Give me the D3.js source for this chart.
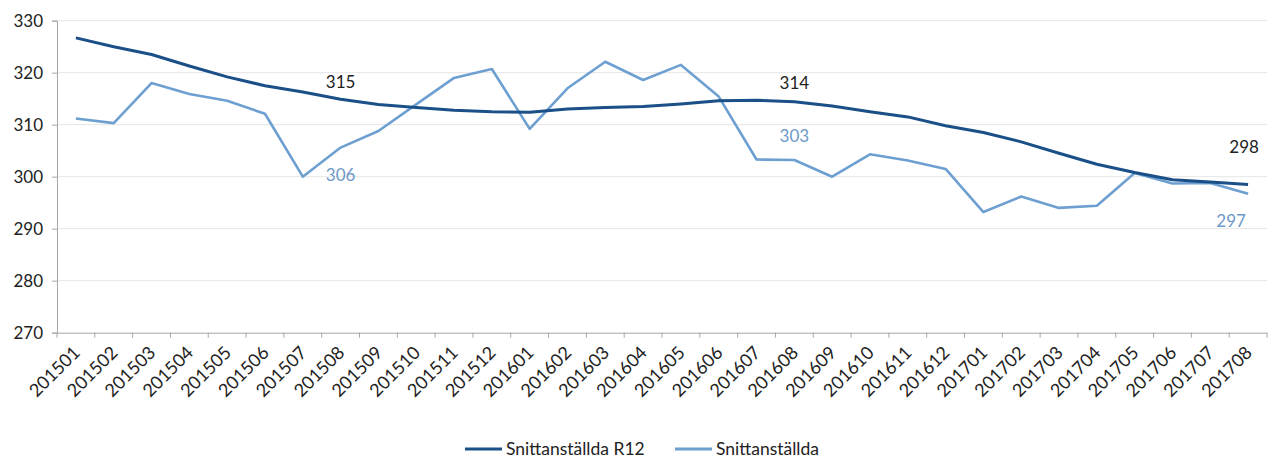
<!DOCTYPE html>
<html><head><meta charset="utf-8">
<script src="https://cdn.jsdelivr.net/npm/d3@7"></script>
<style>body{margin:0;background:#fff}svg{display:block;font-family:Lato,"Open Sans",sans-serif}</style>
</head><body><svg id="c" width="1268" height="458"></svg>
<script>
const categories = ["201501","201502","201503","201504","201505","201506","201507","201508","201509","201510","201511","201512","201601","201602","201603","201604","201605","201606","201607","201608","201609","201610","201611","201612","201701","201702","201703","201704","201705","201706","201707","201708"];
const r12 = [326.7,325.0,323.5,321.3,319.2,317.5,316.3,314.9,313.9,313.3,312.8,312.5,312.4,313.0,313.3,313.5,314.0,314.6,314.7,314.4,313.6,312.5,311.5,309.8,308.5,306.7,304.5,302.4,300.8,299.4,299.0,298.5];
const monthly = [311.2,310.3,318.0,315.9,314.6,312.1,300.0,305.6,308.8,313.9,319.0,320.7,309.2,317.0,322.1,318.6,321.5,315.4,303.3,303.2,300.0,304.3,303.1,301.5,293.2,296.2,294.0,294.4,300.7,298.7,298.8,296.7];
const yTicks = [270,280,290,300,310,320,330];
const seriesNames = ["Snittanställda R12","Snittanställda"];
const labels = [
  {series:0, idx:7, text:"315"},
  {series:1, idx:7, text:"306"},
  {series:0, idx:19, text:"314"},
  {series:1, idx:19, text:"303"},
  {series:0, idx:31, text:"298"},
  {series:1, idx:31, text:"297"}
];

const colors = ["#1a4f87","#6d9fd0"];
const labelColors = ["#222","#6d98c8"];
const svg = d3.select("#c");
const L = 57, R = 1267, T = 20.7, B = 332.7;
const x = d3.scaleBand().domain(categories).range([L, R]);
const y = d3.scaleLinear().domain([270,330]).range([B, T]);
const cx = c => x(c) + x.bandwidth()/2;

// grid
svg.append("g").selectAll("line").data(yTicks.filter(t=>t>270)).join("line")
  .attr("x1", L).attr("x2", R).attr("y1", d=>y(d)).attr("y2", d=>y(d))
  .attr("stroke", "#e6e6e6").attr("stroke-width", 1);

// y axis
const ya = svg.append("g").attr("transform", `translate(${L},0)`)
  .call(d3.axisLeft(y).tickValues(yTicks).tickSize(5).tickPadding(9));
ya.select(".domain").attr("stroke", "#a6a6a6");
ya.selectAll(".tick line").attr("stroke", "#a6a6a6");
ya.selectAll("text").attr("font-size", 17).attr("fill", "#222").attr("font-family","Lato");

// x axis
const xa = svg.append("g").attr("transform", `translate(0,${B})`)
  .call(d3.axisBottom(x).tickSize(0).tickSizeOuter(0));
xa.select(".domain").attr("stroke", "#a6a6a6");
xa.selectAll(".tick line").remove();
xa.selectAll(".tick text")
  .attr("font-size", 18).attr("fill", "#222").attr("font-family","Lato")
  .attr("text-anchor", "end").attr("dy", 0)
  .attr("transform", "translate(3,19) rotate(-45)");
// band-boundary ticks
svg.append("g").selectAll("line").data(categories.concat(["__end"])).join("line")
  .attr("x1", (d,i)=> i<categories.length ? x(d) : R)
  .attr("x2", (d,i)=> i<categories.length ? x(d) : R)
  .attr("y1", B).attr("y2", B+5).attr("stroke", "#a6a6a6");

// lines
const line = d3.line().x((d,i)=>cx(categories[i])).y(d=>y(d));
[monthly, r12].forEach((s, k) => {
  const ci = k===0 ? 1 : 0;
  svg.append("path").datum(s).attr("d", line).attr("fill","none")
    .attr("stroke", colors[ci]).attr("stroke-width", ci===0 ? 3 : 2.6)
    .attr("stroke-linejoin","round");
});

// data labels
const offsets = {"315":[0,-17],"306":[0,27],"314":[0,-19],"303":[0,-24],"298":[-4,-37],"297":[-17,27]};
const data = [r12, monthly];
svg.append("g").selectAll("text").data(labels).join("text")
  .attr("x", d=>cx(categories[d.idx]) + offsets[d.text][0])
  .attr("y", d=>y(data[d.series][d.idx]) + offsets[d.text][1])
  .attr("dy","0.35em")
  .attr("text-anchor","middle").attr("font-size",17)
  .attr("fill", d=>labelColors[d.series]).text(d=>d.text);

// legend
const leg = [{x:465, name:seriesNames[0], c:colors[0]},{x:675, name:seriesNames[1], c:colors[1]}];
const lg = svg.append("g").selectAll("g").data(leg).join("g");
lg.append("line").attr("x1",d=>d.x).attr("x2",d=>d.x+37).attr("y1",449).attr("y2",449)
  .attr("stroke",d=>d.c).attr("stroke-width",3);
lg.append("text").attr("x",d=>d.x+41).attr("y",449).attr("dy","0.35em")
  .attr("font-size",17.5).attr("fill","#222").text(d=>d.name);
</script></body></html>
